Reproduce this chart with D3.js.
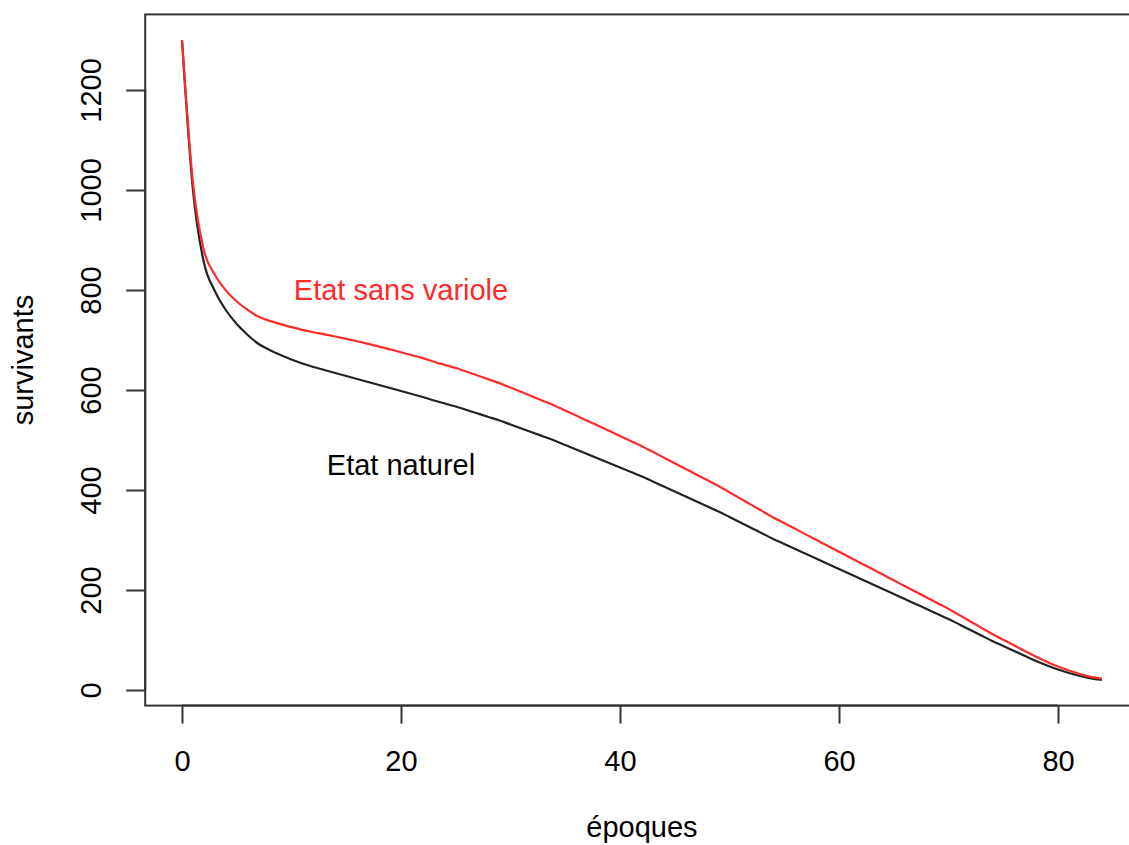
<!DOCTYPE html>
<html>
<head>
<meta charset="utf-8">
<script src="https://cdn.jsdelivr.net/npm/d3@7"></script>
<style>
  html, body { margin: 0; padding: 0; background: #ffffff; }
  svg { display: block; }
  text { font-family: "Liberation Sans", Arial, Helvetica, sans-serif; }
</style>
</head>
<body>
<svg id="chart" width="1129" height="845"></svg>
<script>
// Ages (époques)
const ages = d3.range(0, 85);
// Etat naturel (survivants, Halley's table with 1300 at birth)
const etatNaturel = [
  1300, 1000, 855, 798, 760, 732, 710, 692, 680, 670,
  661, 653, 646, 640, 634, 628, 622, 616, 610, 604,
  598, 592, 586, 579, 573, 567, 560, 553, 546, 539,
  531, 523, 515, 507, 499, 490, 481, 472, 463, 454,
  445, 436, 427, 417, 407, 397, 387, 377, 367, 357,
  346, 335, 324, 313, 302, 292, 282, 272, 262, 252,
  242, 232, 222, 212, 202, 192, 182, 172, 162, 152,
  142, 131, 120, 109, 98, 88, 78, 68, 58, 49,
  41, 34, 28, 23, 20
];
// Etat sans variole (survivants)
const etatSansVariole = [
  1300, 1014.9, 879.3, 830.5, 799.3, 777.1, 760.1, 746.4, 738.3, 731.8,
  725.7, 720.3, 715.5, 711.4, 707.0, 702.3, 697.4, 692.2, 686.8, 681.2,
  675.5, 669.6, 663.7, 656.4, 650.2, 644.0, 636.5, 628.9, 621.3, 613.7,
  604.8, 596.0, 587.0, 578.1, 569.1, 559.0, 548.8, 538.7, 528.5, 518.3,
  508.1, 497.9, 487.6, 476.3, 464.9, 453.5, 442.1, 430.7, 419.3, 407.9,
  395.3, 382.8, 370.2, 357.7, 345.1, 333.7, 322.3, 310.8, 299.4, 288.0,
  276.6, 265.1, 253.7, 242.3, 230.9, 219.4, 208.0, 196.6, 185.1, 173.7,
  162.3, 149.7, 137.1, 124.6, 112.0, 100.6, 89.1, 77.7, 66.3, 56.0,
  46.9, 38.9, 32.0, 26.3, 22.9
];
const xTicks = [0, 20, 40, 60, 80];
const yTicks = [0, 200, 400, 600, 800, 1000, 1200];
const xLabel = "époques";
const yLabel = "survivants";
const labelSans = "Etat sans variole";
const labelNaturel = "Etat naturel";

const svg = d3.select("#chart");
const FS = 29;

// R-style 4% extended limits
const xMin = 0, xMax = 84, yMin = 20, yMax = 1300;
const xPad = (xMax - xMin) * 0.04, yPad = (yMax - yMin) * 0.04;
const x = d3.scaleLinear().domain([xMin - xPad, xMax + xPad]).range([145.2, 1138.6]);
const y = d3.scaleLinear().domain([yMin - yPad, yMax + yPad]).range([705.6, 14.4]);

const [x0, x1] = x.range();
const [y0, y1] = y.range();

// box
svg.append("rect")
  .attr("x", x0).attr("y", y1)
  .attr("width", x1 - x0).attr("height", y0 - y1)
  .attr("fill", "none").attr("stroke", "#333").attr("stroke-width", 2);

// x axis ticks
const xAxis = d3.axisBottom(x).tickValues(xTicks).tickSize(18).tickPadding(26).tickFormat(d3.format("d"));
const gx = svg.append("g").attr("transform", `translate(0,${y0})`).call(xAxis);
gx.select(".domain").attr("stroke", "#333").attr("stroke-width", 2)
  .attr("d", `M${x(xTicks[0])},0H${x(xTicks[xTicks.length-1])}`);
gx.selectAll(".tick line").attr("stroke", "#333").attr("stroke-width", 2);
gx.selectAll(".tick text")
  .attr("font-size", FS).attr("fill", "#000")
  .attr("font-family", "Liberation Sans, Arial, sans-serif")
  .attr("dy", null).attr("y", 65);

// y axis ticks
const yAxis = d3.axisLeft(y).tickValues(yTicks).tickSize(19).tickFormat(d3.format("d"));
const gy = svg.append("g").attr("transform", `translate(${x0},0)`).call(yAxis);
gy.select(".domain").attr("stroke", "#333").attr("stroke-width", 2)
  .attr("d", `M0,${y(yTicks[0])}V${y(yTicks[yTicks.length-1])}`);
gy.selectAll(".tick line").attr("stroke", "#333").attr("stroke-width", 2);
gy.selectAll(".tick text")
  .attr("font-size", FS).attr("fill", "#000")
  .attr("font-family", "Liberation Sans, Arial, sans-serif")
  .attr("x", null).attr("dy", null)
  .attr("text-anchor", "middle")
  .attr("transform", "translate(-44,0) rotate(-90)")
  .attr("y", 0);

// axis titles
svg.append("text")
  .attr("x", (x0 + x1) / 2).attr("y", 837)
  .attr("text-anchor", "middle").attr("font-size", FS).attr("fill", "#000")
  .text(xLabel);
svg.append("text")
  .attr("transform", `translate(33,${(y0 + y1) / 2}) rotate(-90)`)
  .attr("text-anchor", "middle").attr("font-size", FS).attr("fill", "#000")
  .text(yLabel);

// lines
const line = d3.line().x((d, i) => x(ages[i])).y(d => y(d)).curve(d3.curveMonotoneX);
svg.append("path").datum(etatNaturel)
  .attr("d", line).attr("fill", "none")
  .attr("stroke", "#222").attr("stroke-width", 2.2);
svg.append("path").datum(etatSansVariole)
  .attr("d", line).attr("fill", "none")
  .attr("stroke", "#ff2a2a").attr("stroke-width", 2.2);

// annotations
svg.append("text")
  .attr("x", x(20)).attr("y", y(800)).attr("dy", "0.35em")
  .attr("text-anchor", "middle").attr("font-size", FS).attr("fill", "#ff2a2a")
  .text(labelSans);
svg.append("text")
  .attr("x", x(20)).attr("y", y(450)).attr("dy", "0.35em")
  .attr("text-anchor", "middle").attr("font-size", FS).attr("fill", "#000")
  .text(labelNaturel);
</script>
</body>
</html>
